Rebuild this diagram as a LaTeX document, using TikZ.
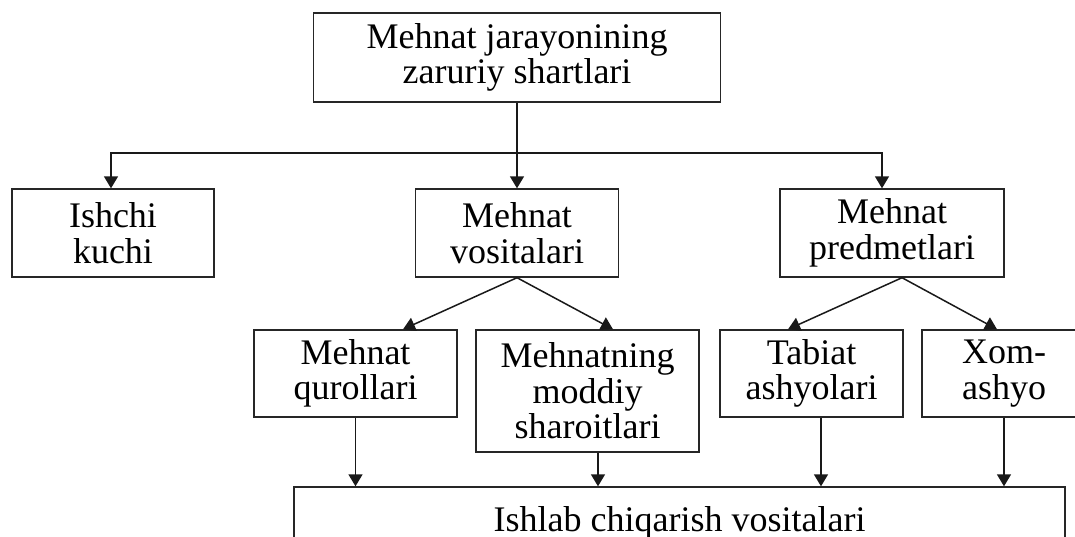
\documentclass[tikz,border=0pt]{standalone}
\usepackage{fontspec}
\setmainfont{Liberation Serif}
\usetikzlibrary{arrows.meta}
\begin{document}
\begin{tikzpicture}[x=1pt,y=-1pt,
  box/.style={draw=black!85,line width=1.4pt,inner sep=0pt,align=center,
    font=\fontsize{36}{35.5}\selectfont},
  arr/.style={draw=black!90,line width=1.5pt,-{Triangle[width=14pt,length=12pt]}},
  ln/.style={draw=black!90,line width=1.5pt}]
\useasboundingbox (0,0) rectangle (1075,536);
\clip (0,0) rectangle (1075,536);
\fill[white] (0,0) rectangle (1075,536);
\node[box,minimum width=407pt,minimum height=89pt] (top) at (517,57.5) {Mehnat jarayonining\\zaruriy shartlari};
\node[box,minimum width=202pt,minimum height=88pt] (ishchi) at (113,233) {Ishchi\\kuchi};
\node[box,minimum width=203pt,minimum height=88pt] (vos) at (517,233) {Mehnat\\vositalari};
\node[box,minimum width=224pt,minimum height=88pt] (pred) at (892,233) {Mehnat\\predmetlari};
\node[box,minimum width=203pt,minimum height=87pt] (qur) at (355.5,373.5) {Mehnat\\qurollari};
\node[box,minimum width=223pt,minimum height=122pt] (mmod) at (587.5,391) {Mehnatning\\moddiy\\sharoitlari};
\node[box,minimum width=183pt,minimum height=87pt] (tab) at (811.5,373.5) {Tabiat\\ashyolari};
\node[box,minimum width=164pt,minimum height=87pt] (xom) at (1004,373.5) {Xom-\\ashyo};
\node[box,minimum width=771pt,minimum height=71pt] (bot) at (679.5,522.5) {Ishlab chiqarish vositalari};
\coordinate (j) at (517,153);
\draw[ln] (top.south) -- (j);
\draw[arr] (j) -- (vos.north);
\draw[arr] (j) -| ([xshift=-2pt]ishchi.north);
\draw[arr] (j) -| ([xshift=-10pt]pred.north);
\draw[arr] (vos.south) -- ([xshift=47.5pt]qur.north);
\draw[arr] (vos.south) -- ([xshift=25.5pt]mmod.north);
\draw[arr] ([xshift=10pt]pred.south) -- ([xshift=-23.5pt]tab.north);
\draw[arr] ([xshift=10pt]pred.south) -- ([xshift=-7pt]xom.north);
\draw[arr] (qur.south) -- (qur.south |- bot.north);
\draw[arr] ([xshift=10.5pt]mmod.south) -- ([xshift=10.5pt]mmod.south |- bot.north);
\draw[arr] ([xshift=9.5pt]tab.south) -- ([xshift=9.5pt]tab.south |- bot.north);
\draw[arr] (xom.south) -- (xom.south |- bot.north);
\end{tikzpicture}
\end{document}
